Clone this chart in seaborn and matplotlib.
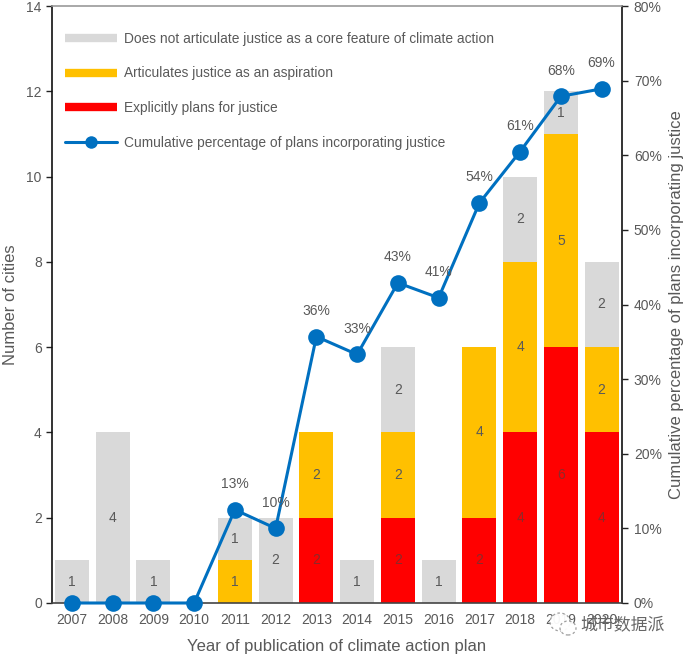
import matplotlib
matplotlib.use("Agg")
import matplotlib.pyplot as plt
import numpy as np
import pandas as pd
import seaborn as sns
from matplotlib.lines import Line2D
from matplotlib.patches import Ellipse

years = ["2007","2008","2009","2010","2011","2012","2013","2014","2015","2016","2017","2018","2019","2020"]
explicit = [0,0,0,0,0,0,2,0,2,0,2,4,6,4]
aspiration = [0,0,0,0,1,0,2,0,2,0,4,4,5,2]
no_justice = [1,4,1,0,1,2,0,1,2,1,0,2,1,2]
cumulative = [0,0,0,0,12.5,10,35.7,33.3,42.9,40.9,53.6,60.5,67.9,68.9]
pct_labels = ["","","","","13%","10%","36%","33%","43%","41%","54%","61%","68%","69%"]
legend_labels = ["Does not articulate justice as a core feature of climate action",
                 "Articulates justice as an aspiration",
                 "Explicitly plans for justice",
                 "Cumulative percentage of plans incorporating justice"]
GREY, YEL, RED, BLUE = "#D9D9D9", "#FFC000", "#FF0000", "#0070C0"
TXT = "#595959"

sns.set_theme(style="white")
plt.rcParams['font.family'] = ['Liberation Sans', 'Noto Sans CJK SC', 'DejaVu Sans']

df = pd.DataFrame(dict(year=years, explicit=explicit, aspiration=aspiration,
                       none=no_justice, cum=cumulative))
fig = plt.figure(figsize=(6.85, 6.55), dpi=100)
ax = fig.add_axes([51.5/685, 1-603/655, (622-51.5)/685, (603-6)/655])

bottom = np.zeros(len(years))
for col, color in [("explicit", RED), ("aspiration", YEL), ("none", GREY)]:
    sns.barplot(data=df, x="year", y=col, color=color, saturation=1, width=0.84,
                bottom=bottom, ax=ax, order=years, linewidth=0, edgecolor="none")
    vals = df[col].to_numpy()
    for i, v in enumerate(vals):
        if v > 0:
            ax.text(i, bottom[i] + v/2, str(v), ha="center", va="center",
                    fontsize=10, color=TXT if color != RED else "#8C2A2A")
    bottom = bottom + vals

ax.set_xlim(-0.5, 13.5)
ax.set_ylim(0, 14)
ax.set_yticks(range(0, 15, 2))
ax.set_xlabel("Year of publication of climate action plan", fontsize=12, color=TXT, labelpad=8)
ax.set_ylabel("Number of cities", fontsize=12, color=TXT, labelpad=6)
ax.tick_params(axis="y", left=True, length=4, width=1, color="#222222", labelsize=10, labelcolor=TXT, pad=3)
ax.tick_params(axis="x", bottom=False, labelsize=10, labelcolor=TXT, pad=1.5)
for s, c in [("left", "#111111"), ("right", "#111111"), ("top", "#999999"), ("bottom", "#444444")]:
    ax.spines[s].set_visible(True)
    ax.spines[s].set_color(c)
    ax.spines[s].set_linewidth(1.2)

ax2 = ax.twinx()
sns.lineplot(data=df, x="year", y="cum", color=BLUE, lw=2.2, marker="o", markersize=12,
             markeredgewidth=0, ax=ax2, sort=False, errorbar=None, clip_on=False, zorder=5)
ax2.set_ylim(0, 80)
ax2.set_xlim(-0.5, 13.5)
ax2.set_yticks(range(0, 81, 10))
ax2.set_yticklabels([f"{v}%" for v in range(0, 81, 10)])
ax2.set_ylabel("Cumulative percentage of plans incorporating justice", fontsize=12, color=TXT, labelpad=5.5)
ax2.set_xlabel("")
ax2.tick_params(axis="y", right=True, length=4, width=1, color="#222222", labelsize=10, labelcolor=TXT, pad=4.5)
for s in ax2.spines.values():
    s.set_visible(False)
for line in ax2.get_lines():
    line.set_clip_on(False)
for i, lab in enumerate(pct_labels):
    if lab:
        ax2.annotate(lab, (i, cumulative[i]), xytext=(0, 18.5), textcoords="offset points",
                     ha="center", va="center", fontsize=10, color=TXT, zorder=6)

handles = [Line2D([], [], color=GREY, lw=6, solid_capstyle="butt"),
           Line2D([], [], color=YEL, lw=6, solid_capstyle="butt"),
           Line2D([], [], color=RED, lw=6, solid_capstyle="butt"),
           Line2D([], [], color=BLUE, lw=2.2, marker="o", markersize=9, markeredgewidth=0)]
leg = ax2.legend(handles, legend_labels, loc="upper left", bbox_to_anchor=(0.0235, 0.9565),
                 frameon=False, fontsize=9.92, labelcolor=TXT, labelspacing=1.49,
                 handlelength=3.78, handletextpad=0.5, borderaxespad=0, borderpad=0)

# watermark: icon bubbles and text
W, H = 685, 655
for cx, cy, rx, ry in [(560, 622, 10, 9), (568, 628, 8, 7)]:
    fig.add_artist(Ellipse((cx/W, 1-cy/H), 2*rx/W, 2*ry/H, transform=fig.transFigure,
                           facecolor="white", edgecolor="#999999", lw=0.9, ls=(0, (2, 2)),
                           alpha=0.95, zorder=9))
fig.text(580/W, 1-625/H, "城市数据派", fontsize=12.2, color="#666666", ha="left", va="center",
         family=['Noto Sans CJK SC', 'DejaVu Sans'], zorder=10)

fig.savefig("out.png", dpi=100)
